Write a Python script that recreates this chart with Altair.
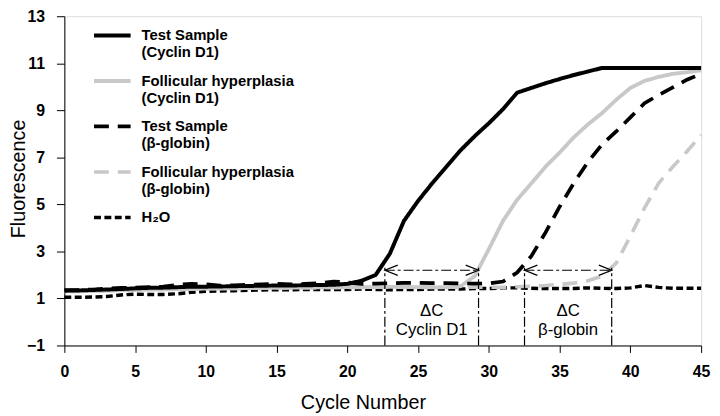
import altair as alt
import pandas as pd

# ---------------- data ----------------
cycles = list(range(0, 46))

test_cyclin = [1.33, 1.34, 1.36, 1.38, 1.40, 1.43, 1.45, 1.46, 1.48, 1.50,
               1.50, 1.51, 1.52, 1.53, 1.54, 1.55, 1.55, 1.56, 1.57, 1.58,
               1.62, 1.75, 2.0, 2.9, 4.3, 5.15, 5.9, 6.6, 7.3, 7.9,
               8.45, 9.05, 9.75, 9.95, 10.15, 10.33, 10.5, 10.65, 10.8, 10.8,
               10.8, 10.8, 10.8, 10.8, 10.8, 10.8]

foll_cyclin = [1.30, 1.30, 1.32, 1.33, 1.35, 1.36, 1.38, 1.38, 1.40, 1.40,
               1.42, 1.42, 1.43, 1.44, 1.45, 1.45, 1.46, 1.46, 1.47, 1.47,
               1.48, 1.48, 1.48, 1.49, 1.49, 1.48, 1.47, 1.48, 1.52, 1.95,
               3.1, 4.3, 5.2, 5.9, 6.6, 7.2, 7.85, 8.4, 8.88, 9.45,
               9.95, 10.25, 10.42, 10.55, 10.62, 10.7]

test_globin = [1.35, 1.36, 1.38, 1.42, 1.45, 1.46, 1.48, 1.50, 1.58, 1.62,
               1.60, 1.55, 1.56, 1.58, 1.60, 1.62, 1.60, 1.62, 1.65, 1.72,
               1.68, 1.62, 1.63, 1.65, 1.66, 1.66, 1.65, 1.65, 1.64, 1.63,
               1.64, 1.72, 2.1, 2.8, 3.8, 4.9, 5.9, 6.8, 7.55, 8.1,
               8.7, 9.3, 9.65, 9.97, 10.3, 10.55]

foll_globin = [1.32, 1.32, 1.33, 1.34, 1.36, 1.37, 1.38, 1.39, 1.40, 1.41,
               1.42, 1.42, 1.43, 1.44, 1.44, 1.45, 1.45, 1.46, 1.46, 1.47,
               1.47, 1.47, 1.48, 1.48, 1.48, 1.48, 1.48, 1.48, 1.48, 1.48,
               1.48, 1.47, 1.50, 1.52, 1.55, 1.60, 1.65, 1.75, 1.95, 2.5,
               3.65, 4.85, 5.9, 6.6, 7.25, 7.95]

h2o = [1.05, 1.05, 1.06, 1.08, 1.15, 1.18, 1.17, 1.17, 1.20, 1.26,
       1.30, 1.32, 1.33, 1.35, 1.36, 1.37, 1.37, 1.38, 1.38, 1.38,
       1.38, 1.40, 1.38, 1.37, 1.38, 1.38, 1.40, 1.40, 1.40, 1.42,
       1.42, 1.45, 1.45, 1.43, 1.42, 1.42, 1.42, 1.45, 1.43, 1.42,
       1.45, 1.55, 1.47, 1.43, 1.43, 1.43]

series_names = ["Test Sample|(Cyclin D1)", "Follicular hyperplasia|(Cyclin D1)",
                "Test Sample|(β-globin)", "Follicular hyperplasia|(β-globin)", "H₂O"]
series_values = [test_cyclin, foll_cyclin, test_globin, foll_globin, h2o]
series_colors = ["#000000", "#c8c8c8", "#000000", "#c8c8c8", "#000000"]
series_dashes = [[1, 0], [1, 0], [15, 9], [15, 9], [7, 3.5]]
series_widths = [4, 3.5, 4.5, 4.5, 3]
draw_order = [4, 3, 1, 2, 0]

# delta-C brackets
bracket_start = [22.65, 32.52]
bracket_end = [29.27, 38.68]
bracket_level = [2.2, 2.2]
rule_top = 2.3
rule_bottom = -1
bracket_labels = ["ΔC\nCyclin D1", "ΔC\nβ-globin"]
label_level = 0.45

x_ticks = list(range(0, 46, 5))
y_ticks = list(range(-1, 14, 2))

# ---------------- tables ----------------
rows = []
for i in draw_order:
    for c, v in zip(cycles, series_values[i]):
        rows.append({"cycle": c, "value": v, "series": series_names[i]})
df = pd.DataFrame(rows)

vr = pd.DataFrame({"cycle": bracket_start + bracket_end,
                   "value": [rule_bottom] * 4,
                   "value2": [rule_top] * 4})
hr = pd.DataFrame({"cycle": bracket_start, "cycle2": bracket_end, "value": bracket_level})
ar = pd.DataFrame({"cycle": bracket_start + bracket_end,
                   "value": bracket_level + bracket_level,
                   "dir": ["left", "left", "right", "right"]})
tx = pd.DataFrame({"cycle": [(a + b) / 2 for a, b in zip(bracket_start, bracket_end)],
                   "value": [label_level] * 2, "label": bracket_labels})

FONT = "Liberation Sans"
xs = alt.Scale(domain=[0, 45], nice=False, zero=False)
ys = alt.Scale(domain=[-1, 13], nice=False, zero=False)

xaxis = alt.Axis(values=x_ticks, title="Cycle Number", grid=False, tickSize=7,
                 labelPadding=11, labelFont=FONT, labelFontWeight="bold",
                 labelFontSize=16, labelColor="black", labelFlush=False,
                 labelOverlap=False, titleFont=FONT, titleFontSize=20,
                 titleFontWeight="normal", titleColor="black", titleX=302,
                 titleY=64, titleBaseline="alphabetic", titleAlign="center",
                 domainColor="black", tickColor="black")
yaxis = alt.Axis(values=y_ticks, title="Fluorescence", grid=False, tickSize=8,
                 labelPadding=12, labelFont=FONT, labelFontWeight="bold",
                 labelFontSize=16, labelColor="black", labelFlush=False,
                 labelOverlap=False, titleFont=FONT, titleFontSize=20,
                 titleFontWeight="normal", titleColor="black", titleX=-46,
                 titleY=164, titleBaseline="middle", titleAlign="center",
                 titleAngle=-90, domainColor="black", tickColor="black")

legend = alt.Legend(title=None, orient="none", legendX=28, legendY=-1,
                    symbolType="stroke", symbolSize=1369, padding=0,
                    rowPadding=0, labelFont=FONT, labelFontWeight="bold",
                    labelFontSize=15, labelColor="black", labelLimit=400,
                    labelOffset=9,
                    labelExpr="indexof(datum.label, '|') < 0 ? datum.label : "
                              "split(datum.label, '|')")

lines = alt.Chart(df).mark_line(strokeCap="butt").encode(
    x=alt.X("cycle:Q", scale=xs, axis=xaxis),
    y=alt.Y("value:Q", scale=ys, axis=yaxis),
    color=alt.Color("series:N", scale=alt.Scale(domain=series_names, range=series_colors),
                    legend=legend),
    strokeDash=alt.StrokeDash("series:N", scale=alt.Scale(domain=series_names, range=series_dashes),
                              legend=legend),
    strokeWidth=alt.StrokeWidth("series:N", scale=alt.Scale(domain=series_names, range=series_widths),
                                legend=legend),
    order=alt.value(0),
)

vrules = alt.Chart(vr).mark_rule(color="black", strokeWidth=1.2, strokeDash=[10, 3, 3, 3]).encode(
    x=alt.X("cycle:Q", scale=xs, axis=xaxis),
    y=alt.Y("value:Q", scale=ys, axis=yaxis),
    y2="value2:Q",
)
hrules = alt.Chart(hr).mark_rule(color="black", strokeWidth=1.2, strokeDash=[10, 3, 3, 3]).encode(
    x=alt.X("cycle:Q", scale=xs, axis=xaxis),
    x2="cycle2:Q",
    y=alt.Y("value:Q", scale=ys, axis=yaxis),
)
arrows = alt.Chart(ar).mark_point(filled=False, color="black", strokeWidth=1.2, size=676, opacity=1).encode(
    x=alt.X("cycle:Q", scale=xs, axis=xaxis),
    y=alt.Y("value:Q", scale=ys, axis=yaxis),
    shape=alt.Shape("dir:N", scale=alt.Scale(domain=["left", "right"],
                                             range=["M1,-0.4L0,0L1,0.4", "M-1,-0.4L0,0L-1,0.4"]),
                    legend=None),
)
texts = alt.Chart(tx).mark_text(font=FONT, fontSize=17, lineBreak="\n", lineHeight=18.5,
                                baseline="middle", align="center", color="black").encode(
    x=alt.X("cycle:Q", scale=xs, axis=xaxis),
    y=alt.Y("value:Q", scale=ys, axis=yaxis),
    text="label:N",
)

chart = alt.layer(lines, vrules, hrules, arrows, texts).properties(
    width=644, height=333, autosize="none",
    padding={"left": 57, "top": 6, "right": 11, "bottom": 69},
).configure_view(stroke="black", strokeWidth=1).configure(background="white")

chart.save("out.html", embed_options={"renderer": "svg", "actions": False})
